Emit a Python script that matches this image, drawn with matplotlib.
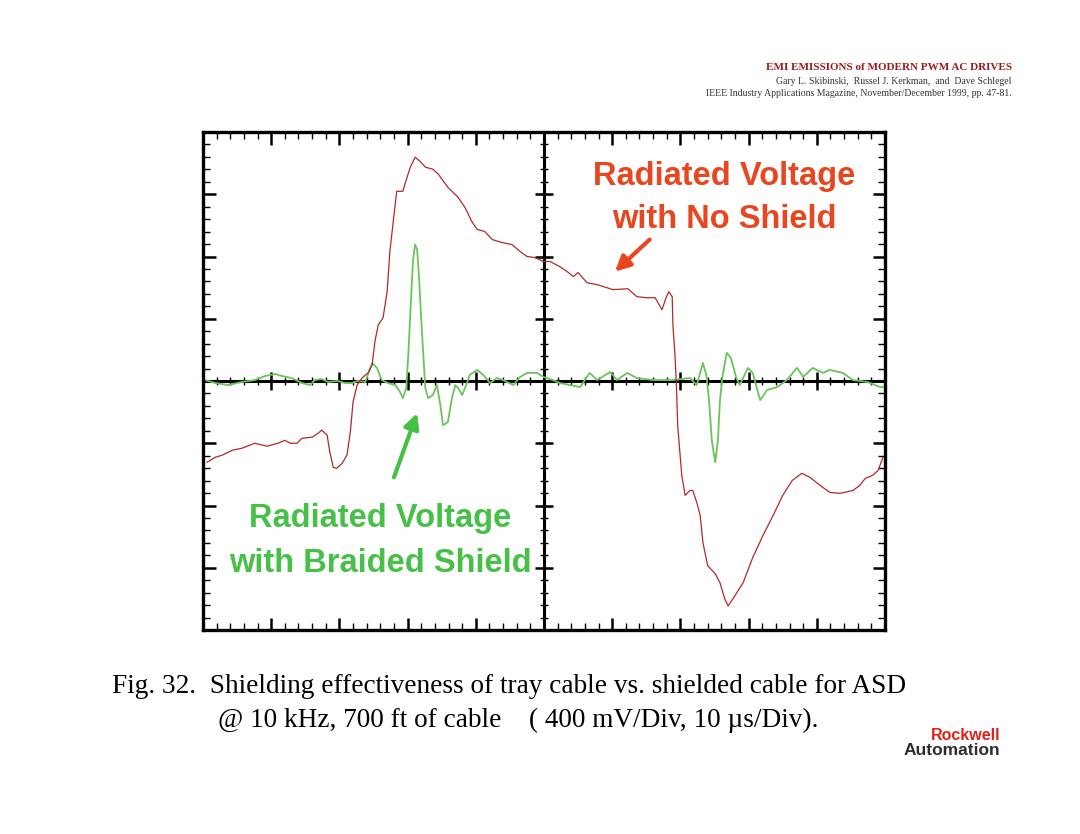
import numpy as np
import matplotlib
matplotlib.use("Agg")
import matplotlib.pyplot as plt
from matplotlib.ticker import MultipleLocator

# time in microseconds, voltage in mV (400 mV/Div, 10 us/Div)
red_t = [0.6, 1.8, 2.8, 4.3, 5.7, 7.6, 9.4, 11.0, 12.0, 12.8, 13.8, 14.5, 16.0,
         16.9, 17.4, 18.2, 18.6, 19.1, 19.6, 20.4, 21.1, 21.6, 22.0, 22.6, 23.3,
         24.2, 24.8, 25.2, 25.7, 26.4, 27.0, 27.4, 27.9, 28.4, 29.3, 29.6, 30.4,
         31.1, 31.8, 32.6, 33.7, 34.5, 35.9, 37.4, 38.4, 39.4, 40.2, 41.3, 42.4,
         43.8, 45.3, 46.5, 47.5, 48.7, 49.9, 50.9, 52.3, 53.4, 54.3, 55.0, 56.3,
         57.8, 59.2, 60.1, 62.3, 63.6, 65.1, 66.3, 67.3, 67.9, 68.3, 68.8, 68.9,
         69.2, 69.4, 69.6, 70.2, 70.7, 71.4, 71.8, 72.4, 72.9, 73.3, 74.0, 75.1,
         75.8, 76.5, 77.0, 77.7, 79.2, 80.6, 82.1, 83.6, 85.0, 86.4, 87.8, 89.0,
         90.5, 91.9, 93.4, 95.3, 96.3, 97.1, 98.2, 99.0, 99.7]
red_mv = [-522, -490, -477, -445, -432, -400, -419, -400, -381, -400, -400, -368,
          -361, -335, -316, -348, -458, -555, -561, -529, -477, -329, -135, -26,
          19, 52, 103, 252, 361, 406, 574, 832, 1026, 1219, 1219, 1264, 1374,
          1438, 1413, 1374, 1361, 1329, 1245, 1180, 1116, 1026, 974, 961, 909,
          890, 877, 832, 800, 793, 768, 768, 735, 703, 671, 697, 632, 619, 600,
          587, 593, 542, 535, 535, 458, 535, 574, 542, 361, 168, -6, -284, -606,
          -735, -703, -703, -780, -864, -1038, -1187, -1238, -1296, -1400, -1445,
          -1400, -1296, -1135, -993, -864, -735, -639, -593, -619, -671, -716,
          -722, -703, -671, -626, -606, -574, -490]

green_t = [0.3, 1.8, 3.7, 5.7, 7.6, 9.1, 10.6, 11.6, 13.0, 14.5, 15.7, 16.4, 17.4,
           18.3, 19.8, 20.8, 21.8, 22.7, 23.8, 24.8, 25.5, 26.2, 27.1, 28.2, 28.9,
           29.3, 29.8, 30.1, 30.5, 30.8, 31.1, 31.4, 31.7, 32.0, 32.3, 32.6, 33.0,
           33.7, 34.3, 34.8, 35.2, 35.9, 36.5, 37.0, 37.4, 38.0, 38.6, 39.1, 40.2,
           41.1, 42.1, 43.1, 44.0, 45.5, 46.5, 47.5, 49.0, 49.9, 51.3, 52.3, 53.8,
           55.3, 56.7, 57.8, 59.7, 60.7, 62.2, 63.6, 66.0, 68.9, 71.4, 72.4, 73.3,
           73.8, 74.2, 74.6, 75.1, 75.5, 75.8, 76.2, 76.8, 77.4, 78.2, 78.7, 79.9,
           80.6, 81.7, 82.7, 84.2, 85.6, 87.1, 88.0, 89.4, 90.9, 91.9, 93.8, 95.3,
           97.4, 99.3, 100.0]
green_mv = [6, -13, -26, -6, 6, 32, 45, 32, 19, -13, -26, 6, 13, -6, 0, -13, -13,
            0, -6, 116, 84, 6, -13, -26, -71, -110, -45, 168, 522, 780, 877, 845,
            651, 393, 168, -45, -110, -90, -26, -155, -284, -264, -110, -26, -45,
            -90, -26, 39, 71, 39, -13, 19, 6, -26, 26, 52, 52, 26, 6, -13, -26,
            -39, 52, 6, 58, 6, 52, 19, 6, 6, 19, -26, 116, 39, -123, -381, -522,
            -381, -123, 39, 181, 148, 19, -26, 84, 52, -123, -58, -39, 6, 84, 26,
            84, 52, 71, 52, 6, -6, -39, -39]

caption_lines = ["Fig. 32.  Shielding effectiveness of tray cable vs. shielded cable for ASD",
                 "@ 10 kHz, 700 ft of cable    ( 400 mV/Div, 10 \u00b5s/Div)."]
header_lines = ["EMI EMISSIONS of MODERN PWM AC DRIVES",
                "Gary L. Skibinski,  Russel J. Kerkman,  and  Dave Schlegel",
                "IEEE Industry Applications Magazine, November/December 1999, pp. 47-81."]

RED = "#b12a2a"
GREEN = "#6cc35c"
ORANGE = "#e8461e"
LABEL_GREEN = "#47c047"

fig = plt.figure(figsize=(10.8, 8.34), dpi=100)
ax = fig.add_axes([203 / 1080, 1 - 630 / 834, 682 / 1080, 498 / 834])

ax.set_xlim(0, 100)
ax.set_ylim(-1600, 1600)

# graticule: frame ticks on all sides plus centre cross
ax.xaxis.set_major_locator(MultipleLocator(10))
ax.xaxis.set_minor_locator(MultipleLocator(2))
ax.yaxis.set_major_locator(MultipleLocator(400))
ax.yaxis.set_minor_locator(MultipleLocator(80))
ax.tick_params(which="both", direction="in", top=True, right=True,
               labelbottom=False, labelleft=False)
ax.tick_params(which="major", length=9, width=1.8)
ax.tick_params(which="minor", length=5, width=1.0)
for sp in ax.spines.values():
    sp.set_linewidth(2.4)

ax.axhline(0, color="black", lw=2.2, zorder=1)
ax.axvline(50, color="black", lw=2.2, zorder=1)
xmaj = np.arange(10, 100, 10)
xmin = np.arange(2, 100, 2)
ymaj = np.arange(-1200, 1600, 400)
ymin = np.arange(-1520, 1600, 80)
ax.plot(xmin, np.zeros_like(xmin), ls="none", marker="|", ms=6, mew=1.0, color="black", zorder=1)
ax.plot(xmaj, np.zeros_like(xmaj), ls="none", marker="|", ms=13, mew=1.8, color="black", zorder=1)
ax.plot(np.full(len(ymin), 50), ymin, ls="none", marker="_", ms=6, mew=1.0, color="black", zorder=1)
ax.plot(np.full(len(ymaj), 50), ymaj, ls="none", marker="_", ms=13, mew=1.8, color="black", zorder=1)

ax.plot(red_t, red_mv, color=RED, lw=0.9, zorder=3)
ax.plot(green_t, green_mv, color=GREEN, lw=1.3, zorder=2)

# annotations
label_font = dict(family=["Liberation Sans", "DejaVu Sans"], fontweight="bold", fontsize=23.5)
ax.text(76.4, 1316, "Radiated Voltage", color=ORANGE, ha="center", va="center", **label_font)
ax.text(76.4, 1038, "with No Shield", color=ORANGE, ha="center", va="center", **label_font)
ax.annotate("", xy=(60.4, 703), xytext=(65.5, 909),
            arrowprops=dict(arrowstyle="-|>,head_width=0.45,head_length=0.9",
                            lw=3, color=ORANGE, shrinkA=0, shrinkB=0))

ax.text(26.0, -884, "Radiated Voltage", color=LABEL_GREEN, ha="center", va="center", **label_font)
ax.text(26.0, -1174, "with Braided Shield", color=LABEL_GREEN, ha="center", va="center", **label_font)
ax.annotate("", xy=(31.4, -206), xytext=(28.0, -619),
            arrowprops=dict(arrowstyle="-|>,head_width=0.45,head_length=0.9",
                            lw=3, color=LABEL_GREEN, shrinkA=0, shrinkB=0))

# header
serif = ["Liberation Serif", "DejaVu Serif"]
fig.text(1012 / 1080, 1 - 68 / 834, header_lines[0], ha="right", va="center",
         family=serif, fontweight="bold", fontsize=8, color="#9b1c1c")
fig.text(1012 / 1080, 1 - 81 / 834, header_lines[1], ha="right", va="center",
         family=serif, fontsize=7, color="#333333")
fig.text(1012 / 1080, 1 - 94 / 834, header_lines[2], ha="right", va="center",
         family=serif, fontsize=7, color="#333333")

# caption
fig.text(112 / 1080, 1 - 693 / 834, caption_lines[0], ha="left", va="baseline",
         family=serif, fontsize=19.6, color="black")
fig.text(218 / 1080, 1 - 727 / 834, caption_lines[1], ha="left", va="baseline",
         family=serif, fontsize=19.6, color="black")

# logo
logo_font = ["Liberation Sans", "DejaVu Sans"]
fig.text(1000 / 1080, 1 - 740 / 834, "Rockwell", ha="right", va="baseline",
         family=logo_font, fontweight="bold", fontsize=11.5, color="#e0201b")
fig.text(1000 / 1080, 1 - 755 / 834, "Automation", ha="right", va="baseline",
         family=logo_font, fontweight="bold", fontsize=12.5, color="#2e2e2e")

fig.savefig("out.png", dpi=100, facecolor="white")
